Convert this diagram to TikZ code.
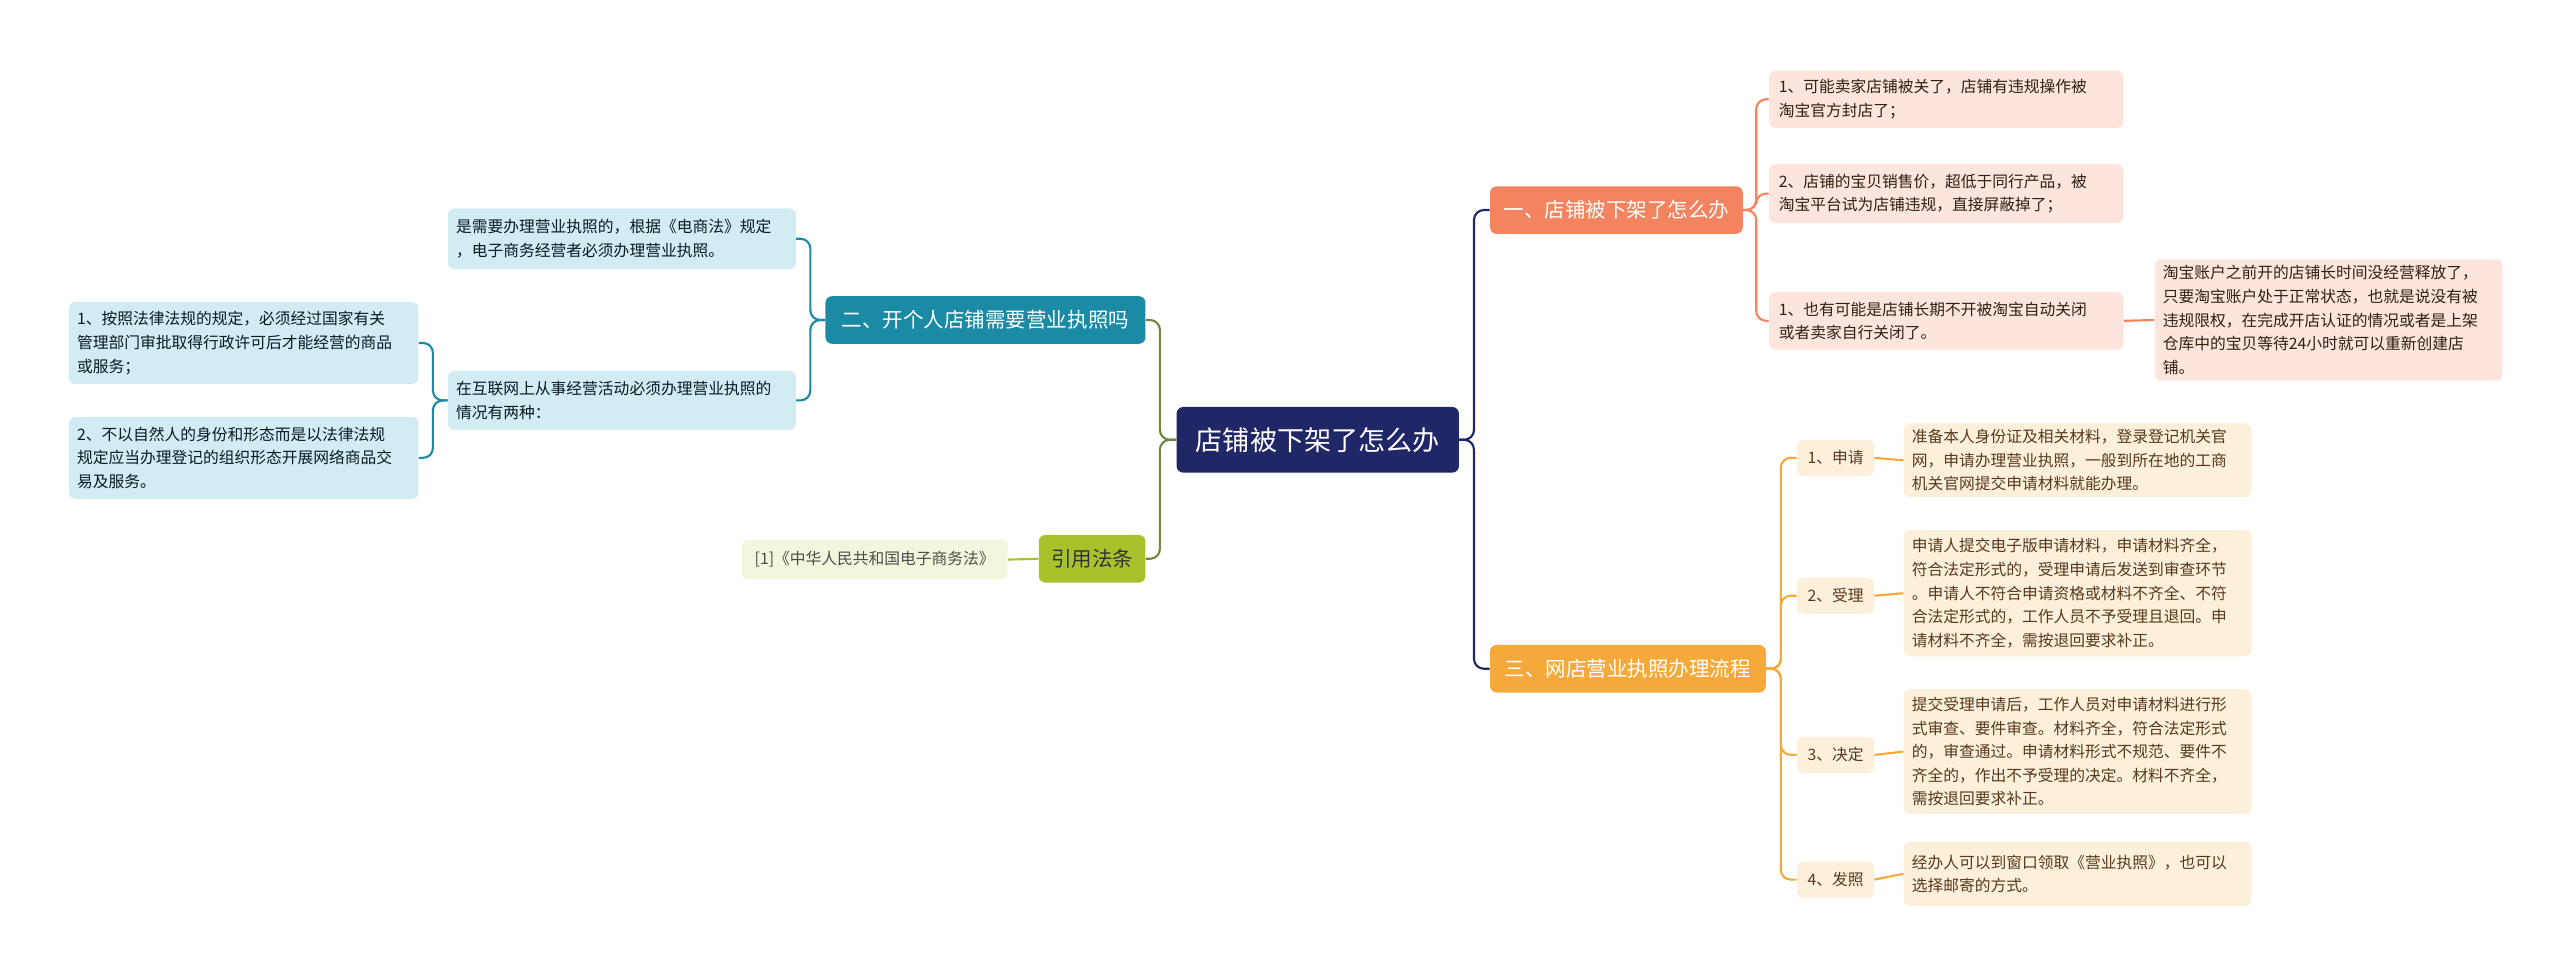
\documentclass[tikz,border=0pt]{standalone}
\usepackage{fontspec}
\setmainfont{Noto Sans CJK SC}
\definecolor{navy}{HTML}{1F2766}
\definecolor{coral}{HTML}{F4845F}
\definecolor{coralleaf}{HTML}{FDE4DC}
\definecolor{teal}{HTML}{1A8AA5}
\definecolor{tealleaf}{HTML}{D2ECF3}
\definecolor{olive}{HTML}{A8C22C}
\definecolor{oliveleaf}{HTML}{F3F6DC}
\definecolor{amber}{HTML}{F5A93A}
\definecolor{amberleaf}{HTML}{FDF0DA}
\begin{document}
\begin{tikzpicture}
        [x=1pt, y=-1pt,
        box/.style={rounded corners=4pt, inner sep=0pt, align=left},
        root/.style={box, fill=navy, text=white, minimum width=172pt, minimum height=40pt, font=\fontsize{16.5}{20}\selectfont},
        branch/.style={box, text=white, minimum height=29pt, font=\fontsize{12.5}{15}\selectfont},
        leaf/.style={box, font=\fontsize{9.6}{14.4}\selectfont},
        coralleafbox/.style={leaf, fill=coralleaf, text=black!75!brown},
        tealleafbox/.style={leaf, fill=tealleaf, text=black!80!teal},
        amberleafbox/.style={leaf, fill=amberleaf, text=black!55!brown},
        link/.style={line width=1.3pt, rounded corners=6pt}]

        \useasboundingbox (0,0) rectangle (1560,594);

        % centre
        \node[root] (root) at (803,268) {店铺被下架了怎么办};

        % branch one
        \node[branch, fill=coral, minimum width=154pt] (one) at (985,128) {一、店铺被下架了怎么办};
        \node[coralleafbox, minimum width=216pt, minimum height=35pt, text width=204pt] (o1) at (1186,60.5) {1、可能卖家店铺被关了，店铺有违规操作被\\淘宝官方封店了；};
        \node[coralleafbox, minimum width=216pt, minimum height=36pt, text width=204pt] (o2) at (1186,118) {2、店铺的宝贝销售价，超低于同行产品，被\\淘宝平台试为店铺违规，直接屏蔽掉了；};
        \node[coralleafbox, minimum width=216pt, minimum height=35pt, text width=204pt] (o3) at (1186,195.5) {1、也有可能是店铺长期不开被淘宝自动关闭\\或者卖家自行关闭了。};
        \node[coralleafbox, minimum width=212pt, minimum height=74pt, text width=202pt] (o4) at (1419,195) {淘宝账户之前开的店铺长时间没经营释放了，\\只要淘宝账户处于正常状态，也就是说没有被\\违规限权，在完成开店认证的情况或者是上架\\仓库中的宝贝等待24小时就可以重新创建店\\铺。};

        % branch two
        \node[branch, fill=teal, minimum width=195pt] (two) at (600.5,195) {二、开个人店铺需要营业执照吗};
        \node[tealleafbox, minimum width=212pt, minimum height=37pt, text width=202pt] (t1) at (379,145.5) {是需要办理营业执照的，根据《电商法》规定\\，电子商务经营者必须办理营业执照。};
        \node[tealleafbox, minimum width=212pt, minimum height=36pt, text width=202pt] (t2) at (379,244) {在互联网上从事经营活动必须办理营业执照的\\情况有两种：};
        \node[tealleafbox, minimum width=213pt, minimum height=50pt, text width=203pt] (t21) at (148.5,209) {1、按照法律法规的规定，必须经过国家有关\\管理部门审批取得行政许可后才能经营的商品\\或服务；};
        \node[tealleafbox, minimum width=213pt, minimum height=50pt, text width=203pt] (t22) at (148.5,279) {2、不以自然人的身份和形态而是以法律法规\\规定应当办理登记的组织形态开展网络商品交\\易及服务。};

        % citation
        \node[branch, fill=olive, text=black!80, minimum width=65pt] (cite) at (665.5,340.5) {引用法条};
        \node[leaf, fill=oliveleaf, text=black!70, minimum width=162pt, minimum height=24pt] (c1) at (533,341) {[1]《中华人民共和国电子商务法》};

        % branch three
        \node[branch, fill=amber, minimum width=168pt] (three) at (992,407.5) {三、网店营业执照办理流程};
        \foreach \nm/\lbl/\y in {s1/1、申请/279, s2/2、受理/363, s3/3、决定/460, s4/4、发照/536}
          \node[amberleafbox, minimum width=47pt, minimum height=22pt] (\nm) at (1118.5,\y) {\lbl};
        \node[amberleafbox, minimum width=212pt, minimum height=45pt, text width=202pt] (d1) at (1266,280.5) {准备本人身份证及相关材料，登录登记机关官\\网，申请办理营业执照，一般到所在地的工商\\机关官网提交申请材料就能办理。};
        \node[amberleafbox, minimum width=212pt, minimum height=77pt, text width=202pt] (d2) at (1266,361.5) {申请人提交电子版申请材料，申请材料齐全，\\符合法定形式的，受理申请后发送到审查环节\\。申请人不符合申请资格或材料不齐全、不符\\合法定形式的，工作人员不予受理且退回。申\\请材料不齐全，需按退回要求补正。};
        \node[amberleafbox, minimum width=212pt, minimum height=76pt, text width=202pt] (d3) at (1266,458) {提交受理申请后，工作人员对申请材料进行形\\式审查、要件审查。材料齐全，符合法定形式\\的，审查通过。申请材料形式不规范、要件不\\齐全的，作出不予受理的决定。材料不齐全，\\需按退回要求补正。};
        \node[amberleafbox, minimum width=212pt, minimum height=39pt, text width=202pt] (d4) at (1266,532.5) {经办人可以到窗口领取《营业执照》，也可以\\选择邮寄的方式。};

        % connectors
        \foreach \c in {one, three}
          \draw[link, navy] (root.east) -- ++(9,0) |- (\c.west);
        \foreach \c in {two, cite}
          \draw[link, navy!40!olive] (root.west) -- ++(-10,0) |- (\c.west -| \c.east);
        \foreach \c in {o1, o2, o3}
          \draw[link, coral] (one.east) -- ++(8,0) |- (\c.west);
        \draw[link, coral] (o3.east) -- (o4.west);
        \foreach \c in {t1, t2}
          \draw[link, teal] (two.west) -- ++(-9,0) |- (\c.east);
        \foreach \c in {t21, t22}
          \draw[link, teal] (t2.west) -- ++(-9,0) |- (\c.east);
        \draw[link, olive] (cite.west) -- (c1.east);
        \foreach \c in {s1, s2, s3, s4}
          \draw[link, amber] (three.east) -- ++(9,0) |- (\c.west);
        \foreach \i in {1,...,4}
          \draw[link, amber] (s\i.east) -- (d\i.west);

\end{tikzpicture}
\end{document}
